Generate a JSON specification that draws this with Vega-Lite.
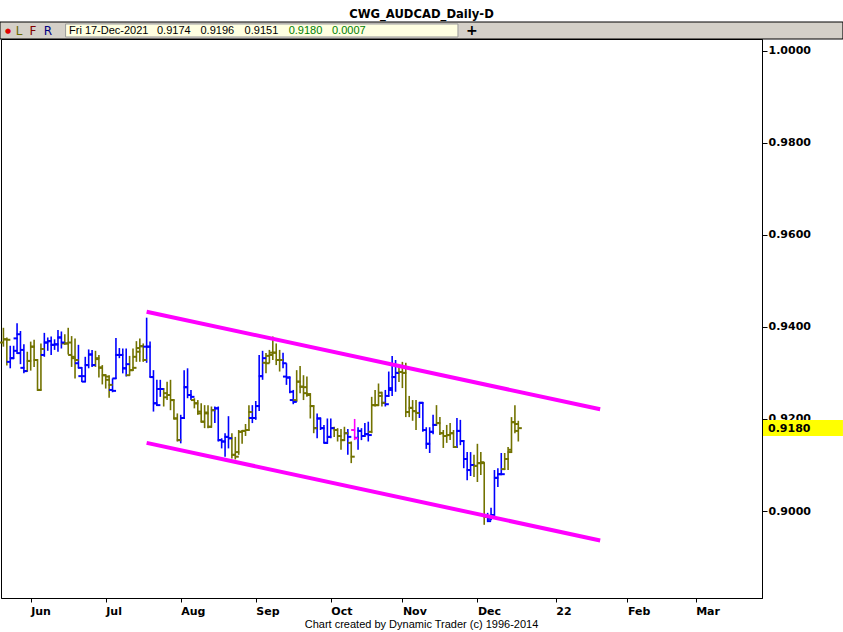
{
  "$schema": "https://vega.github.io/schema/vega-lite/v6.json",
  "width": 761,
  "height": 559,
  "autosize": {"type": "none"},
  "padding": {"left": 1, "top": 39, "right": 81, "bottom": 34},
  "background": "white",
  "config": {"view": {"stroke": "#000000", "strokeWidth": 1}, "font": "DejaVu Sans"},
  "title": {"text": "CWG_AUDCAD_Daily-D", "frame": "group", "anchor": "middle", "dx": 40, "offset": 1, "font": "DejaVu Sans", "fontSize": 11.6, "fontWeight": "bold", "color": "#000000"},
  "data": {"values": [{}]},
  "datasets": {
    "bars": [
      {"i":-8,"o":0.9366,"h":0.9398,"l":0.9357,"c":0.9373,"t":"down"},
      {"i":-7,"o":0.9373,"h":0.9377,"l":0.9316,"c":0.9372,"t":"down"},
      {"i":-6,"o":0.9324,"h":0.9359,"l":0.9310,"c":0.9332,"t":"up"},
      {"i":-5,"o":0.9332,"h":0.9359,"l":0.9330,"c":0.9348,"t":"up"},
      {"i":-4,"o":0.9375,"h":0.9408,"l":0.9341,"c":0.9384,"t":"up"},
      {"i":-3,"o":0.9343,"h":0.9391,"l":0.9319,"c":0.9350,"t":"up"},
      {"i":-2,"o":0.9311,"h":0.9362,"l":0.9299,"c":0.9304,"t":"up"},
      {"i":-1,"o":0.9304,"h":0.9346,"l":0.9303,"c":0.9326,"t":"down"},
      {"i":0,"o":0.9326,"h":0.9368,"l":0.9305,"c":0.9357,"t":"down"},
      {"i":1,"o":0.9357,"h":0.9372,"l":0.9313,"c":0.9328,"t":"down"},
      {"i":2,"o":0.9328,"h":0.9330,"l":0.9261,"c":0.9263,"t":"down"},
      {"i":3,"o":0.9263,"h":0.9364,"l":0.9261,"c":0.9352,"t":"down"},
      {"i":4,"o":0.9339,"h":0.9387,"l":0.9335,"c":0.9366,"t":"up"},
      {"i":5,"o":0.9366,"h":0.9377,"l":0.9348,"c":0.9369,"t":"up"},
      {"i":6,"o":0.9369,"h":0.9379,"l":0.9339,"c":0.9361,"t":"up"},
      {"i":7,"o":0.9361,"h":0.9373,"l":0.9350,"c":0.9362,"t":"up"},
      {"i":8,"o":0.9362,"h":0.9393,"l":0.9346,"c":0.9377,"t":"up"},
      {"i":9,"o":0.9377,"h":0.9390,"l":0.9353,"c":0.9366,"t":"up"},
      {"i":10,"o":0.9364,"h":0.9384,"l":0.9361,"c":0.9364,"t":"down"},
      {"i":11,"o":0.9364,"h":0.9398,"l":0.9340,"c":0.9366,"t":"down"},
      {"i":12,"o":0.9339,"h":0.9380,"l":0.9313,"c":0.9335,"t":"down"},
      {"i":13,"o":0.9332,"h":0.9375,"l":0.9288,"c":0.9328,"t":"down"},
      {"i":14,"o":0.9321,"h":0.9361,"l":0.9310,"c":0.9311,"t":"up"},
      {"i":15,"o":0.9293,"h":0.9313,"l":0.9280,"c":0.9293,"t":"up"},
      {"i":16,"o":0.9281,"h":0.9335,"l":0.9280,"c":0.9317,"t":"up"},
      {"i":17,"o":0.9317,"h":0.9351,"l":0.9310,"c":0.9340,"t":"up"},
      {"i":18,"o":0.9340,"h":0.9350,"l":0.9313,"c":0.9317,"t":"up"},
      {"i":19,"o":0.9317,"h":0.9348,"l":0.9313,"c":0.9330,"t":"down"},
      {"i":20,"o":0.9332,"h":0.9339,"l":0.9290,"c":0.9312,"t":"down"},
      {"i":21,"o":0.9311,"h":0.9317,"l":0.9275,"c":0.9295,"t":"down"},
      {"i":22,"o":0.9295,"h":0.9297,"l":0.9266,"c":0.9292,"t":"down"},
      {"i":23,"o":0.9285,"h":0.9295,"l":0.9246,"c":0.9274,"t":"down"},
      {"i":24,"o":0.9263,"h":0.9288,"l":0.9258,"c":0.9261,"t":"up"},
      {"i":25,"o":0.9288,"h":0.9376,"l":0.9287,"c":0.9339,"t":"up"},
      {"i":26,"o":0.9339,"h":0.9354,"l":0.9332,"c":0.9339,"t":"up"},
      {"i":27,"o":0.9339,"h":0.9353,"l":0.9299,"c":0.9310,"t":"up"},
      {"i":28,"o":0.9310,"h":0.9353,"l":0.9292,"c":0.9319,"t":"up"},
      {"i":29,"o":0.9295,"h":0.9337,"l":0.9294,"c":0.9306,"t":"down"},
      {"i":30,"o":0.9306,"h":0.9353,"l":0.9304,"c":0.9311,"t":"down"},
      {"i":31,"o":0.9335,"h":0.9369,"l":0.9324,"c":0.9354,"t":"down"},
      {"i":32,"o":0.9346,"h":0.9375,"l":0.9324,"c":0.9358,"t":"down"},
      {"i":33,"o":0.9358,"h":0.9364,"l":0.9324,"c":0.9328,"t":"down"},
      {"i":34,"o":0.9357,"h":0.9420,"l":0.9322,"c":0.9357,"t":"up"},
      {"i":35,"o":0.9357,"h":0.9368,"l":0.9290,"c":0.9291,"t":"up"},
      {"i":36,"o":0.9291,"h":0.9306,"l":0.9216,"c":0.9234,"t":"up"},
      {"i":37,"o":0.9234,"h":0.9285,"l":0.9228,"c":0.9230,"t":"up"},
      {"i":38,"o":0.9265,"h":0.9285,"l":0.9248,"c":0.9265,"t":"up"},
      {"i":39,"o":0.9265,"h":0.9267,"l":0.9227,"c":0.9247,"t":"down"},
      {"i":40,"o":0.9256,"h":0.9281,"l":0.9241,"c":0.9252,"t":"down"},
      {"i":41,"o":0.9252,"h":0.9285,"l":0.9219,"c":0.9241,"t":"down"},
      {"i":42,"o":0.9241,"h":0.9243,"l":0.9199,"c":0.9201,"t":"down"},
      {"i":43,"o":0.9201,"h":0.9212,"l":0.9151,"c":0.9154,"t":"down"},
      {"i":44,"o":0.9154,"h":0.9209,"l":0.9147,"c":0.9202,"t":"up"},
      {"i":45,"o":0.9202,"h":0.9306,"l":0.9200,"c":0.9269,"t":"up"},
      {"i":46,"o":0.9269,"h":0.9310,"l":0.9245,"c":0.9252,"t":"up"},
      {"i":47,"o":0.9252,"h":0.9263,"l":0.9241,"c":0.9248,"t":"up"},
      {"i":48,"o":0.9241,"h":0.9245,"l":0.9223,"c":0.9234,"t":"down"},
      {"i":49,"o":0.9234,"h":0.9241,"l":0.9209,"c":0.9216,"t":"down"},
      {"i":50,"o":0.9212,"h":0.9234,"l":0.9192,"c":0.9194,"t":"down"},
      {"i":51,"o":0.9194,"h":0.9230,"l":0.9180,"c":0.9214,"t":"down"},
      {"i":52,"o":0.9212,"h":0.9230,"l":0.9180,"c":0.9183,"t":"down"},
      {"i":53,"o":0.9183,"h":0.9227,"l":0.9181,"c":0.9219,"t":"down"},
      {"i":54,"o":0.9219,"h":0.9227,"l":0.9191,"c":0.9223,"t":"up"},
      {"i":55,"o":0.9223,"h":0.9227,"l":0.9151,"c":0.9154,"t":"up"},
      {"i":56,"o":0.9154,"h":0.9158,"l":0.9136,"c":0.9151,"t":"up"},
      {"i":57,"o":0.9151,"h":0.9169,"l":0.9118,"c":0.9161,"t":"up"},
      {"i":58,"o":0.9161,"h":0.9206,"l":0.9136,"c":0.9158,"t":"up"},
      {"i":59,"o":0.9158,"h":0.9169,"l":0.9114,"c":0.9122,"t":"down"},
      {"i":60,"o":0.9122,"h":0.9161,"l":0.9112,"c":0.9118,"t":"down"},
      {"i":61,"o":0.9128,"h":0.9176,"l":0.9122,"c":0.9172,"t":"down"},
      {"i":62,"o":0.9172,"h":0.9176,"l":0.9146,"c":0.9174,"t":"down"},
      {"i":63,"o":0.9174,"h":0.9189,"l":0.9163,"c":0.9176,"t":"down"},
      {"i":64,"o":0.9176,"h":0.9230,"l":0.9174,"c":0.9215,"t":"down"},
      {"i":65,"o":0.9202,"h":0.9230,"l":0.9191,"c":0.9202,"t":"up"},
      {"i":66,"o":0.9202,"h":0.9239,"l":0.9198,"c":0.9228,"t":"up"},
      {"i":67,"o":0.9228,"h":0.9339,"l":0.9217,"c":0.9293,"t":"up"},
      {"i":68,"o":0.9293,"h":0.9348,"l":0.9285,"c":0.9332,"t":"up"},
      {"i":69,"o":0.9322,"h":0.9343,"l":0.9299,"c":0.9321,"t":"down"},
      {"i":70,"o":0.9337,"h":0.9350,"l":0.9321,"c":0.9339,"t":"down"},
      {"i":71,"o":0.9344,"h":0.9379,"l":0.9328,"c":0.9344,"t":"down"},
      {"i":72,"o":0.9344,"h":0.9364,"l":0.9317,"c":0.9328,"t":"down"},
      {"i":73,"o":0.9328,"h":0.9350,"l":0.9303,"c":0.9328,"t":"down"},
      {"i":74,"o":0.9328,"h":0.9344,"l":0.9310,"c":0.9321,"t":"up"},
      {"i":75,"o":0.9292,"h":0.9321,"l":0.9274,"c":0.9290,"t":"up"},
      {"i":76,"o":0.9290,"h":0.9292,"l":0.9256,"c":0.9259,"t":"up"},
      {"i":77,"o":0.9241,"h":0.9263,"l":0.9232,"c":0.9237,"t":"up"},
      {"i":78,"o":0.9241,"h":0.9306,"l":0.9237,"c":0.9281,"t":"down"},
      {"i":79,"o":0.9281,"h":0.9315,"l":0.9256,"c":0.9270,"t":"down"},
      {"i":80,"o":0.9270,"h":0.9295,"l":0.9241,"c":0.9269,"t":"down"},
      {"i":81,"o":0.9256,"h":0.9292,"l":0.9248,"c":0.9252,"t":"down"},
      {"i":82,"o":0.9254,"h":0.9256,"l":0.9201,"c":0.9228,"t":"down"},
      {"i":83,"o":0.9228,"h":0.9230,"l":0.9169,"c":0.9180,"t":"down"},
      {"i":84,"o":0.9180,"h":0.9212,"l":0.9158,"c":0.9201,"t":"up"},
      {"i":85,"o":0.9201,"h":0.9203,"l":0.9176,"c":0.9180,"t":"up"},
      {"i":86,"o":0.9180,"h":0.9187,"l":0.9147,"c":0.9148,"t":"up"},
      {"i":87,"o":0.9148,"h":0.9201,"l":0.9146,"c":0.9161,"t":"up"},
      {"i":88,"o":0.9161,"h":0.9201,"l":0.9158,"c":0.9180,"t":"up"},
      {"i":89,"o":0.9180,"h":0.9183,"l":0.9161,"c":0.9176,"t":"down"},
      {"i":90,"o":0.9176,"h":0.9180,"l":0.9151,"c":0.9163,"t":"down"},
      {"i":91,"o":0.9163,"h":0.9178,"l":0.9133,"c":0.9154,"t":"down"},
      {"i":92,"o":0.9154,"h":0.9183,"l":0.9152,"c":0.9169,"t":"down"},
      {"i":93,"o":0.9169,"h":0.9178,"l":0.9122,"c":0.9161,"t":"up"},
      {"i":94,"o":0.9148,"h":0.9151,"l":0.9104,"c":0.9118,"t":"down"},
      {"i":95,"o":0.9176,"h":0.9200,"l":0.9154,"c":0.9158,"t":"mark"},
      {"i":96,"o":0.9159,"h":0.9182,"l":0.9133,"c":0.9174,"t":"up"},
      {"i":97,"o":0.9174,"h":0.9180,"l":0.9154,"c":0.9163,"t":"up"},
      {"i":98,"o":0.9163,"h":0.9191,"l":0.9161,"c":0.9167,"t":"up"},
      {"i":99,"o":0.9167,"h":0.9194,"l":0.9151,"c":0.9165,"t":"up"},
      {"i":100,"o":0.9172,"h":0.9248,"l":0.9169,"c":0.9230,"t":"down"},
      {"i":101,"o":0.9230,"h":0.9263,"l":0.9227,"c":0.9230,"t":"down"},
      {"i":102,"o":0.9230,"h":0.9277,"l":0.9228,"c":0.9257,"t":"down"},
      {"i":103,"o":0.9250,"h":0.9259,"l":0.9227,"c":0.9235,"t":"down"},
      {"i":104,"o":0.9235,"h":0.9263,"l":0.9227,"c":0.9232,"t":"up"},
      {"i":105,"o":0.9250,"h":0.9303,"l":0.9248,"c":0.9267,"t":"up"},
      {"i":106,"o":0.9263,"h":0.9337,"l":0.9250,"c":0.9291,"t":"up"},
      {"i":107,"o":0.9291,"h":0.9328,"l":0.9259,"c":0.9300,"t":"up"},
      {"i":108,"o":0.9300,"h":0.9317,"l":0.9280,"c":0.9302,"t":"down"},
      {"i":109,"o":0.9302,"h":0.9324,"l":0.9267,"c":0.9300,"t":"down"},
      {"i":110,"o":0.9300,"h":0.9322,"l":0.9204,"c":0.9215,"t":"down"},
      {"i":111,"o":0.9215,"h":0.9250,"l":0.9204,"c":0.9224,"t":"down"},
      {"i":112,"o":0.9224,"h":0.9241,"l":0.9196,"c":0.9217,"t":"down"},
      {"i":113,"o":0.9217,"h":0.9241,"l":0.9176,"c":0.9213,"t":"down"},
      {"i":114,"o":0.9213,"h":0.9237,"l":0.9202,"c":0.9235,"t":"up"},
      {"i":115,"o":0.9235,"h":0.9237,"l":0.9172,"c":0.9176,"t":"up"},
      {"i":116,"o":0.9176,"h":0.9182,"l":0.9135,"c":0.9146,"t":"up"},
      {"i":117,"o":0.9146,"h":0.9182,"l":0.9126,"c":0.9172,"t":"up"},
      {"i":118,"o":0.9172,"h":0.9209,"l":0.9167,"c":0.9187,"t":"up"},
      {"i":119,"o":0.9187,"h":0.9230,"l":0.9185,"c":0.9191,"t":"down"},
      {"i":120,"o":0.9191,"h":0.9204,"l":0.9165,"c":0.9169,"t":"down"},
      {"i":121,"o":0.9169,"h":0.9176,"l":0.9137,"c":0.9163,"t":"down"},
      {"i":122,"o":0.9163,"h":0.9187,"l":0.9148,"c":0.9165,"t":"down"},
      {"i":123,"o":0.9165,"h":0.9191,"l":0.9154,"c":0.9169,"t":"down"},
      {"i":124,"o":0.9169,"h":0.9176,"l":0.9137,"c":0.9139,"t":"down"},
      {"i":125,"o":0.9139,"h":0.9202,"l":0.9137,"c":0.9174,"t":"up"},
      {"i":126,"o":0.9174,"h":0.9198,"l":0.9143,"c":0.9152,"t":"up"},
      {"i":127,"o":0.9152,"h":0.9154,"l":0.9093,"c":0.9113,"t":"up"},
      {"i":128,"o":0.9113,"h":0.9128,"l":0.9067,"c":0.9089,"t":"up"},
      {"i":129,"o":0.9089,"h":0.9128,"l":0.9076,"c":0.9100,"t":"up"},
      {"i":130,"o":0.9100,"h":0.9122,"l":0.9074,"c":0.9098,"t":"down"},
      {"i":131,"o":0.9098,"h":0.9146,"l":0.9063,"c":0.9104,"t":"down"},
      {"i":132,"o":0.9104,"h":0.9128,"l":0.9078,"c":0.9106,"t":"down"},
      {"i":133,"o":0.9104,"h":0.9106,"l":0.8970,"c":0.8987,"t":"down"},
      {"i":134,"o":0.8987,"h":0.8996,"l":0.8976,"c":0.8978,"t":"up"},
      {"i":135,"o":0.8983,"h":0.9007,"l":0.8980,"c":0.8991,"t":"up"},
      {"i":136,"o":0.8991,"h":0.9089,"l":0.8987,"c":0.9072,"t":"up"},
      {"i":137,"o":0.9072,"h":0.9093,"l":0.9052,"c":0.9080,"t":"up"},
      {"i":138,"o":0.9080,"h":0.9126,"l":0.9078,"c":0.9080,"t":"up"},
      {"i":139,"o":0.9091,"h":0.9126,"l":0.9089,"c":0.9113,"t":"down"},
      {"i":140,"o":0.9113,"h":0.9139,"l":0.9089,"c":0.9128,"t":"down"},
      {"i":141,"o":0.9133,"h":0.9204,"l":0.9126,"c":0.9193,"t":"down"},
      {"i":142,"o":0.9193,"h":0.9230,"l":0.9169,"c":0.9189,"t":"down"},
      {"i":143,"o":0.9174,"h":0.9196,"l":0.9151,"c":0.9180,"t":"down"}
    ],
    "channel": [
      {"line": "upper", "i": 34, "v": 0.9433},
      {"line": "upper", "i": 167, "v": 0.9221},
      {"line": "lower", "i": 34, "v": 0.9148},
      {"line": "lower", "i": 167, "v": 0.8936}
    ]
  },
  "layer": [
    {
      "data": {"name": "bars"},
      "mark": {"type": "rule", "strokeWidth": 1.6},
      "encoding": {
        "x": {"field": "i", "type": "quantitative",
          "scale": {"domain": [-8.71, 214.46], "nice": false, "zero": false},
          "axis": {"orient": "bottom", "values": [0, 22, 44, 66, 88, 109, 131, 154, 175, 195],
            "labelExpr": "['Jun','Jul','Aug','Sep','Oct','Nov','Dec','22','Feb','Mar'][indexof([0,22,44,66,88,109,131,154,175,195], datum.value)]",
            "labelAlign": "left", "labelDx": 2, "labelPadding": 3, "labelFont": "DejaVu Sans", "labelFontWeight": "bold", "labelFontSize": 11, "labelColor": "#000000",
            "tickSize": 4, "tickColor": "#000000", "domainColor": "#000000", "grid": false,
            "title": "Chart created by Dynamic Trader  (c) 1996-2014", "titleFont": "Liberation Sans", "titleFontWeight": "normal", "titleFontSize": 11, "titleColor": "#000000",
            "titleX": 420, "titleY": 29, "titleAlign": "center", "titleBaseline": "alphabetic"}},
        "y": {"field": "l", "type": "quantitative",
          "scale": {"domain": [0.8811, 1.00254], "nice": false, "zero": false},
          "axis": {"orient": "right", "values": [0.9, 0.92, 0.94, 0.96, 0.98, 1.0], "format": ".4f",
            "labelFont": "DejaVu Sans", "labelFontWeight": "bold", "labelFontSize": 11, "labelColor": "#000000", "labelPadding": 1,
            "tickSize": 5, "tickColor": "#000000", "domainColor": "#000000", "grid": false, "title": null}},
        "y2": {"field": "h"},
        "color": {"field": "t", "type": "nominal", "scale": {"domain": ["up", "down", "mark"], "range": ["#0000ff", "#727200", "#ff00ff"]}, "legend": null}
      }
    },
    {
      "data": {"name": "bars"},
      "mark": {"type": "rule", "strokeWidth": 2, "xOffset": -3.5, "x2Offset": 0.5},
      "encoding": {
        "x": {"field": "i", "type": "quantitative"},
        "x2": {"field": "i"},
        "y": {"field": "o", "type": "quantitative"},
        "color": {"field": "t", "type": "nominal", "legend": null}
      }
    },
    {
      "data": {"name": "bars"},
      "mark": {"type": "rule", "strokeWidth": 2, "xOffset": -0.5, "x2Offset": 3.5},
      "encoding": {
        "x": {"field": "i", "type": "quantitative"},
        "x2": {"field": "i"},
        "y": {"field": "c", "type": "quantitative"},
        "color": {"field": "t", "type": "nominal", "legend": null}
      }
    },
    {
      "data": {"name": "channel"},
      "mark": {"type": "line", "strokeWidth": 4, "color": "#ff00ff"},
      "encoding": {
        "x": {"field": "i", "type": "quantitative"},
        "y": {"field": "v", "type": "quantitative"},
        "detail": {"field": "line", "type": "nominal"}
      }
    },
    {
      "mark": {"type": "rect", "fill": "#d4d0c8", "stroke": "#000000", "strokeWidth": 1},
      "encoding": {"x": {"datum": -9.0}, "x2": {"datum": 238.2}, "y": {"datum": 1.00254}, "y2": {"datum": 1.00623}}
    },
    {
      "mark": {"type": "rect", "fill": "#ffffe1", "stroke": "#9a9a9a", "strokeWidth": 1},
      "encoding": {"x": {"datum": 10.23}, "x2": {"datum": 125.3}, "y": {"datum": 1.00298}, "y2": {"datum": 1.0058}}
    },
    {
      "mark": {"type": "text", "text": "●", "align": "center", "baseline": "middle", "fontSize": 7, "color": "#e00000"},
      "encoding": {"x": {"datum": -6.66}, "y": {"datum": 1.00428}}
    },
    {
      "mark": {"type": "text", "text": "L", "align": "center", "baseline": "middle", "font": "DejaVu Sans", "fontSize": 12, "color": "#6a6a00"},
      "encoding": {"x": {"datum": -3.43}, "y": {"datum": 1.00428}}
    },
    {
      "mark": {"type": "text", "text": "F", "align": "center", "baseline": "middle", "font": "DejaVu Sans", "fontSize": 12, "color": "#800000"},
      "encoding": {"x": {"datum": 0.67}, "y": {"datum": 1.00428}}
    },
    {
      "mark": {"type": "text", "text": "R", "align": "center", "baseline": "middle", "font": "DejaVu Sans", "fontSize": 12, "color": "#000080"},
      "encoding": {"x": {"datum": 5.07}, "y": {"datum": 1.00428}}
    },
    {
      "mark": {"type": "text", "text": "Fri 17-Dec-2021", "align": "left", "baseline": "middle", "font": "Liberation Sans", "fontSize": 11, "color": "#000000"},
      "encoding": {"x": {"datum": 11.23}, "y": {"datum": 1.00428}}
    },
    {
      "mark": {"type": "text", "text": "0.9174", "align": "left", "baseline": "middle", "font": "Liberation Sans", "fontSize": 11, "color": "#000000"},
      "encoding": {"x": {"datum": 37.04}, "y": {"datum": 1.00428}}
    },
    {
      "mark": {"type": "text", "text": "0.9196", "align": "left", "baseline": "middle", "font": "Liberation Sans", "fontSize": 11, "color": "#000000"},
      "encoding": {"x": {"datum": 49.79}, "y": {"datum": 1.00428}}
    },
    {
      "mark": {"type": "text", "text": "0.9151", "align": "left", "baseline": "middle", "font": "Liberation Sans", "fontSize": 11, "color": "#000000"},
      "encoding": {"x": {"datum": 62.73}, "y": {"datum": 1.00428}}
    },
    {
      "mark": {"type": "text", "text": "0.9180", "align": "left", "baseline": "middle", "font": "Liberation Sans", "fontSize": 11, "color": "#008000"},
      "encoding": {"x": {"datum": 75.66}, "y": {"datum": 1.00428}}
    },
    {
      "mark": {"type": "text", "text": "0.0007", "align": "left", "baseline": "middle", "font": "Liberation Sans", "fontSize": 11, "color": "#008000"},
      "encoding": {"x": {"datum": 88.36}, "y": {"datum": 1.00428}}
    },
    {
      "mark": {"type": "text", "text": "+", "align": "center", "baseline": "middle", "font": "DejaVu Sans", "fontSize": 14, "fontWeight": "bold", "color": "#000000"},
      "encoding": {"x": {"datum": 129.41}, "y": {"datum": 1.00428}}
    },
    {
      "mark": {"type": "rect", "fill": "#ffff00"},
      "encoding": {"x": {"datum": 214.75}, "x2": {"datum": 238.2}, "y": {"datum": 0.91629}, "y2": {"datum": 0.91977}}
    },
    {
      "mark": {"type": "text", "text": "0.9180", "align": "left", "baseline": "middle", "dy": 1, "font": "DejaVu Sans", "fontSize": 11, "fontWeight": "bold", "color": "#000000"},
      "encoding": {"x": {"datum": 216.22}, "y": {"datum": 0.918}}
    }
  ]
}
